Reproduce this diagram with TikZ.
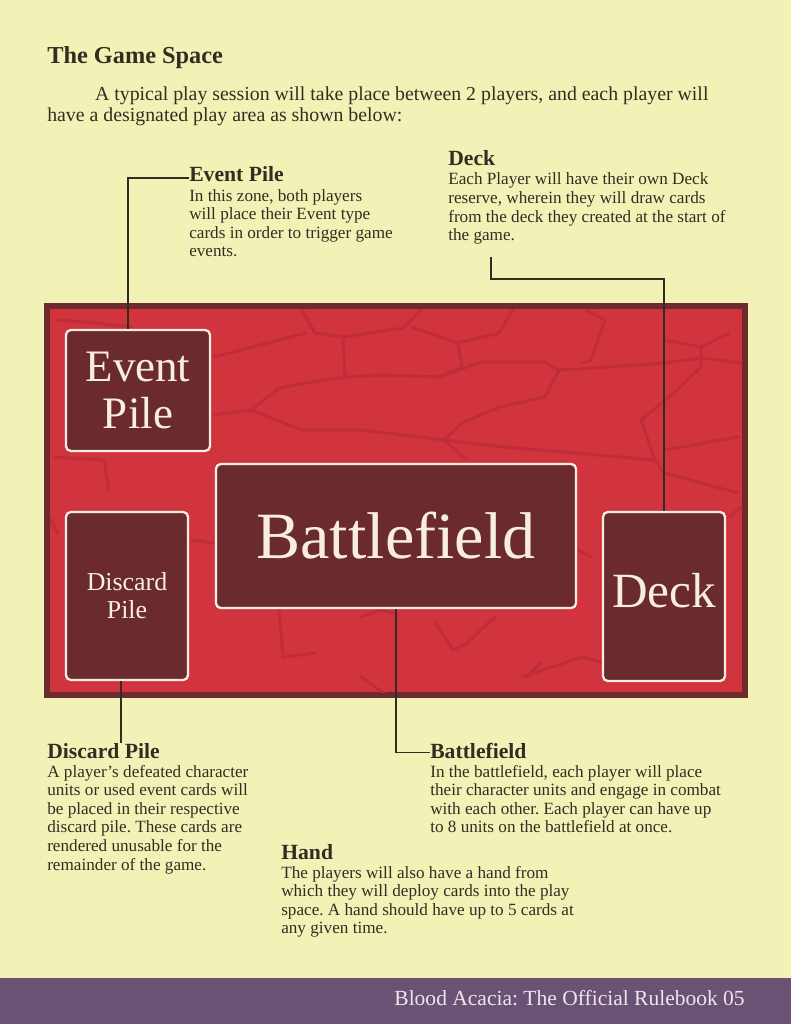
\documentclass[tikz,border=0pt]{standalone}
\usepackage{fontspec}
\setmainfont{Liberation Serif}
\usepackage{tikz}
\usetikzlibrary{calc}
\frenchspacing

\definecolor{pagebg}{HTML}{F3F2B6}
\definecolor{tablered}{HTML}{D2343D}
\definecolor{tableedge}{HTML}{6E2B2E}
\definecolor{crackred}{HTML}{BF2E38}
\definecolor{cardfill}{HTML}{6B2A2D}
\definecolor{cardline}{HTML}{F8EDE3}
\definecolor{ink}{HTML}{302E22}
\definecolor{footerbg}{HTML}{6A5274}
\definecolor{footertext}{HTML}{EEE6EE}

\tikzset{
  card/.style={draw=cardline, fill=cardfill, line width=1.6pt, rounded corners=3.5pt,
    text=cardline, align=center, inner sep=0pt},
  head/.style={anchor=base west, inner sep=0pt, text=ink, font=\fontsize{15.4}{18}\selectfont\bfseries},
  blurb/.style={anchor=north west, inner sep=0pt, text=ink, align=left, font=\fontsize{12.2}{13.2}\selectfont},
  wire/.style={draw=ink, line width=1.4pt},
  crack/.style={draw=crackred, line width=2.2pt, line join=round, line cap=round}
}

\begin{document}
\begin{tikzpicture}[x=0.025cm, y=-0.025cm]
  % page and footer
  \fill[pagebg] (0,0) rectangle (791,1024);
  \useasboundingbox (0,0) rectangle (791,1024);
  \fill[footerbg] (0,978) rectangle (791,1024);
  \node[anchor=base east, inner sep=0pt, text=footertext, font=\fontsize{15.3}{18}\selectfont] (foot) at (745,1005) {Blood Acacia: The Official Rulebook 05};

  % title and intro
  \node[anchor=base west, inner sep=0pt, text=ink, font=\fontsize{17.3}{20}\selectfont\bfseries] (title) at (47,64) {The Game Space};
  \node[anchor=north west, inner sep=0pt, text=ink, align=left, font=\fontsize{14.1}{15}\selectfont] (intro) at (47,86)
    {\hspace*{34pt}A typical play session will take place between 2 players, and each player will\\have a designated play area as shown below:};

  % the table
  \draw[fill=tablered, draw=tableedge, line width=4.3pt] (47,306) rectangle (745,695);
  \begin{scope}
    \clip (50,309) rectangle (742,692);
    \draw[crack]
      (302,310) -- (315,333) -- (343,337) -- (403,328) -- (421,310)
      (343,337) -- (345,377) -- (311,382) -- (279,388) -- (251,410) -- (214,415)
      (214,357) -- (306,333)
      (345,377) -- (380,375) -- (439,377) -- (462,367) -- (458,343) -- (412,327)
      (458,343) -- (499,333) -- (513,310)
      (439,377) -- (481,362) -- (545,362) -- (559,370) -- (609,367) -- (664,363) -- (701,358) -- (742,363)
      (559,370) -- (545,397) -- (499,407) -- (462,423) -- (444,440)
      (251,410) -- (302,430) -- (361,430) -- (444,440) -- (504,447) -- (655,460)
      (444,440) -- (467,460)
      (586,310) -- (605,320) -- (591,360) -- (582,363)
      (664,340) -- (701,347) -- (729,333)
      (701,347) -- (701,367) -- (674,393) -- (641,420) -- (655,460) -- (664,473) -- (738,493)
      (664,450) -- (738,437)
      (58,320) -- (95,323) -- (132,327)
      (54,457) -- (104,460) -- (109,490)
      (279,610) -- (283,657) -- (315,653)
      (361,617) -- (380,610) -- (394,613)
      (435,623) -- (453,650) -- (467,643) -- (495,617)
      (361,677) -- (389,697)
      (540,663) -- (527,677)
      (522,677) -- (582,657) -- (605,663)
      (192,540) -- (214,543)
      (573,547) -- (591,557)
      (49,517) -- (58,533)
      (729,517) -- (747,503);
  \end{scope}

  % cards
  \node[card, minimum width=3.6cm, minimum height=3.025cm, font=\fontsize{32}{34}\selectfont] (evcard) at (138,390.5) {Event\\Pile};
  \node[card, minimum width=3.05cm, minimum height=4.2cm, font=\fontsize{18.4}{20}\selectfont] (dccard) at (127,596) {Discard\\Pile};
  \node[card, minimum width=9cm, minimum height=3.6cm, font=\fontsize{47}{50}\selectfont] (bfcard) at (396,536) {Battlefield};
  \node[card, minimum width=3.05cm, minimum height=4.225cm, font=\fontsize{35}{38}\selectfont] (dkcard) at (664,596.5) {\raisebox{9pt}{Deck}};

  % labels
  \node[head] (evhead) at (189,182) {Event Pile};
  \node[blurb] (evbody) at ([yshift=-4.5pt]evhead.south west)
    {In this zone, both players\\will place their Event type\\cards in order to trigger game\\events.};
  \node[head] (dkhead) at (448,166) {Deck};
  \node[blurb] (dkbody) at ([yshift=-4.5pt]dkhead.south west)
    {Each Player will have their own Deck\\reserve, wherein they will draw cards\\from the deck they created at the start of\\the game.};
  \node[head] (dchead) at (47,758) {Discard Pile};
  \node[blurb] (dcbody) at ([yshift=-4.5pt]dchead.south west)
    {A player's defeated character\\units or used event cards will\\be placed in their respective\\discard pile. These cards are\\rendered unusable for the\\remainder of the game.};
  \node[head] (bfhead) at (430,758) {Battlefield};
  \node[blurb] (bfbody) at ([yshift=-4.5pt]bfhead.south west)
    {In the battlefield, each player will place\\their character units and engage in combat\\with each other. Each player can have up\\to 8 units on the battlefield at once.};
  \node[head] (hdhead) at (281,859) {Hand};
  \node[blurb] (hdbody) at ([yshift=-4.5pt]hdhead.south west)
    {The players will also have a hand from\\which they will deploy cards into the play\\space. A hand should have up to 5 cards at\\any given time.};

  % connectors
  \coordinate (dkbend) at (491,279);
  \coordinate (dkend) at (491,257);
  \coordinate (dctop) at ($(dccard.south)+(-6,0)$);
  \coordinate (evhook) at ($(evhead.west)+(0,3)$);
  \coordinate (bfhook) at ($(bfhead.west)+(0,2)$);
  \draw[wire] ($(evcard.north)+(-10,0)$) |- (evhook);
  \draw[wire] (dkcard.north) |- (dkbend) -- (dkend);
  \draw[wire] (dctop) -- (dctop |- dchead.north);
  \draw[wire] (bfcard.south) |- (bfhook);
\end{tikzpicture}
\end{document}
